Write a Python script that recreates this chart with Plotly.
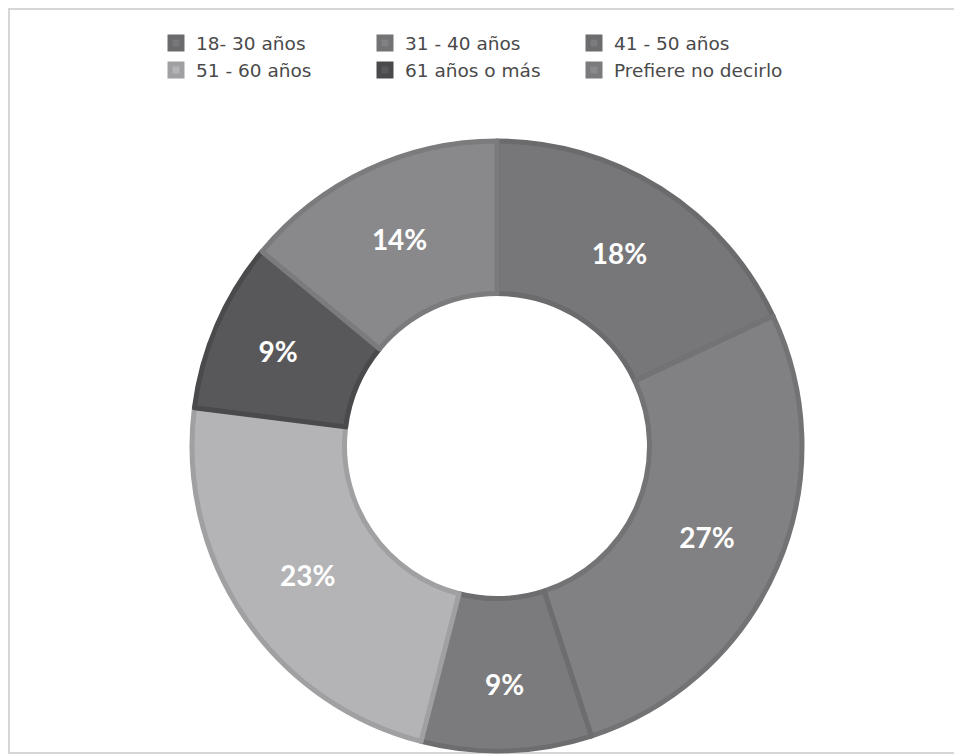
import plotly.graph_objects as go

categories = ["18- 30 años", "31 - 40 años", "41 - 50 años", "51 - 60 años", "61 años o más", "Prefiere no decirlo"]
values = [18, 27, 9, 23, 9, 14]
fill_colors = ["#77777a", "#818183", "#7b7b7d", "#b4b4b6", "#58585a", "#89898b"]
line_colors = ["#6b6b6e", "#737375", "#6d6d6f", "#a0a0a2", "#4a4a4c", "#7b7b7d"]

W, H = 962, 756
OFF = 8  # page body margin
ML, MR = 130, 130
PW = W - ML - MR
cx, cy, R = 497 - OFF, 446 - OFF, 305

def px_x(v):
    return (v - ML) / PW

fig = go.Figure(go.Pie(
    labels=categories,
    values=values,
    sort=False,
    direction="clockwise",
    rotation=0,
    hole=0.5,
    domain=dict(x=[px_x(cx - R), px_x(cx + R)], y=[1 - (cy + R) / H, 1 - (cy - R) / H]),
    marker=dict(colors=fill_colors, line=dict(color=line_colors, width=5)),
    textinfo="percent",
    texttemplate="%{percent:.0%}",
    textposition="inside",
    insidetextorientation="horizontal",
    textfont=dict(family="Lato, 'DejaVu Sans', sans-serif", size=28, color="white", weight="bold"),
))

fig.update_layout(
    width=W, height=H,
    margin=dict(l=ML, r=MR, t=0, b=0, autoexpand=False),
    paper_bgcolor="white",
    plot_bgcolor="white",
    showlegend=True,
    legend=dict(
        orientation="h",
        xref="container", yref="container",
        x=148 / W, xanchor="left",
        y=1 - 16.5 / H, yanchor="top",
        entrywidth=164, entrywidthmode="pixels",
        font=dict(family="'DejaVu Sans', sans-serif", size=18.5, color="#4a4a4a"),
        traceorder="normal",
    ),
    shapes=[dict(type="rect", xref="paper", yref="paper",
                 x0=px_x(1), x1=px_x(958 - OFF), y0=1 - (753 - OFF) / H, y1=1 - 1 / H,
                 line=dict(color="#d6d6d6", width=2), fillcolor="rgba(0,0,0,0)", layer="below")],
)

fig.write_html("out.html")
